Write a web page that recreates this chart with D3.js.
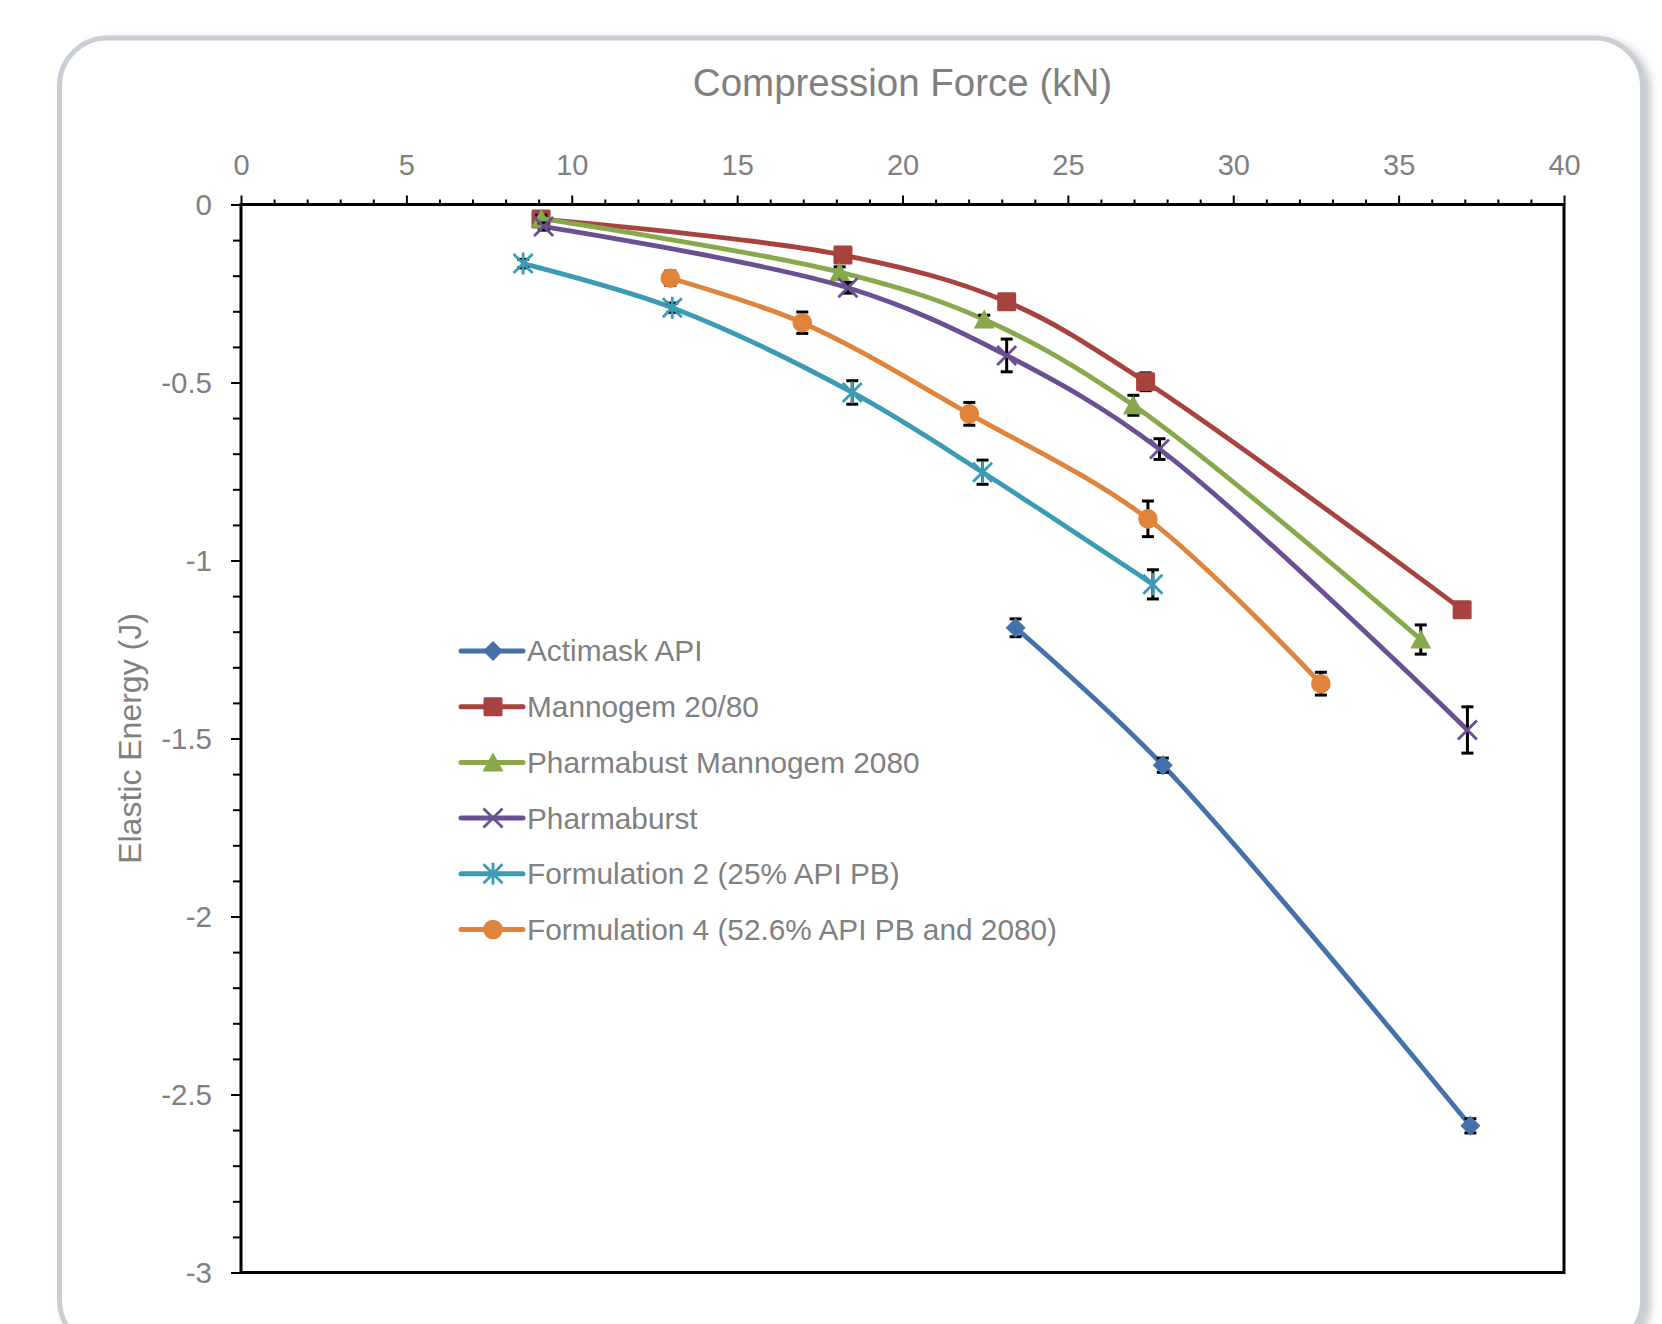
<!DOCTYPE html>
<html>
<head>
<meta charset="utf-8">
<script src="https://cdn.jsdelivr.net/npm/d3@7"></script>
<style>
body { margin: 0; background: #fff; }
svg text { font-family: "Liberation Sans", Arial, sans-serif; fill: #808080; }
</style>
</head>
<body>
<div id="chart"></div>
<script>
// data
var seriesNames = ["Actimask API", "Mannogem 20/80", "Pharmabust Mannogem 2080", "Pharmaburst",
	"Formulation 2 (25% API PB)", "Formulation 4 (52.6% API PB and 2080)"];

var actimaskX = [23.42, 27.87, 37.17];
var actimaskY = [-1.189, -1.575, -2.588];
var actimaskErr = [0.025, 0.02, 0.02];

var mannogemX = [9.07, 18.2, 23.15, 27.35, 36.92];
var mannogemY = [-0.041, -0.142, -0.273, -0.498, -1.138];
var mannogemErr = [0.01, 0.02, 0.01, 0.025, 0.015];

var pbMannogemX = [9.08, 18.1, 22.47, 26.98, 35.67];
var pbMannogemY = [-0.04, -0.19, -0.323, -0.564, -1.222];
var pbMannogemErr = [0.01, 0.015, 0.012, 0.028, 0.041];

var pharmaburstX = [9.15, 18.35, 23.15, 27.77, 37.08];
var pharmaburstY = [-0.062, -0.234, -0.424, -0.687, -1.476];
var pharmaburstErr = [0.01, 0.015, 0.046, 0.029, 0.065];

var form2X = [8.53, 13.04, 18.48, 22.42, 27.57];
var form2Y = [-0.166, -0.29, -0.528, -0.752, -1.067];
var form2Err = [0.012, 0.013, 0.033, 0.034, 0.041];

var form4X = [12.98, 16.97, 22.02, 27.42, 32.65];
var form4Y = [-0.207, -0.332, -0.588, -0.883, -1.346];
var form4Err = [0.02, 0.03, 0.032, 0.05, 0.032];

var xTicks = [0, 5, 10, 15, 20, 25, 30, 35, 40];
var yTicks = [0, -0.5, -1, -1.5, -2, -2.5, -3];

var colors = ["#4471a9", "#a8423f", "#88a94b", "#6b4f93", "#3b9bb4", "#e0843b"];
var markers = ["diamond", "square", "triangle", "cross", "star", "circle"];

function chart(){
	var W = 1662, H = 1324;
	var margin = {top: 204.5, right: 98, bottom: 51.5, left: 241};
	var width = W - margin.left - margin.right, height = H - margin.top - margin.bottom;

	var root = d3.select("#chart")
		.append("svg")
		.attr("width", W)
		.attr("height", H);

	// frame with soft shadow
	var defs = root.append("defs");
	var f = defs.append("filter").attr("id", "shadow")
		.attr("x", "-5%").attr("y", "-5%").attr("width", "115%").attr("height", "115%");
	f.append("feDropShadow").attr("dx", 6).attr("dy", 4).attr("stdDeviation", 4)
		.attr("flood-color", "#aeb3ba").attr("flood-opacity", 0.7);

	root.append("rect")
		.attr("x", 59.5).attr("y", 38)
		.attr("width", 1583).attr("height", 1310)
		.attr("rx", 48).attr("ry", 48)
		.attr("fill", "#fff")
		.attr("stroke", "#c9ced4")
		.attr("stroke-width", 5)
		.attr("filter", "url(#shadow)");

	var svg = root.append("g")
		.attr("transform", "translate(" + margin.left + "," + margin.top + ")");

	var x = d3.scaleLinear().domain([0, 40]).range([0, width]);
	var y = d3.scaleLinear().domain([-3, 0]).range([height, 0]);

	// minor ticks
	svg.append("g")
		.call(d3.axisTop(x).tickValues(d3.range(0, 41).filter(d => d % 5 != 0)).tickSize(5).tickFormat(""))
		.call(g => g.select(".domain").remove())
		.call(g => g.selectAll("line").attr("stroke", "#000").attr("stroke-width", 2));
	svg.append("g")
		.call(d3.axisLeft(y).tickValues(d3.range(-29, 0).map(d => d / 10).filter(d => Math.round(d * 10) % 5 != 0)).tickSize(8).tickFormat(""))
		.call(g => g.select(".domain").remove())
		.call(g => g.selectAll("line").attr("stroke", "#000").attr("stroke-width", 2));

	// major ticks + labels
	svg.append("g")
		.call(d3.axisTop(x).tickValues(xTicks).tickSize(9).tickFormat(d3.format("d")))
		.call(g => g.select(".domain").remove())
		.call(g => g.selectAll("line").attr("stroke", "#000").attr("stroke-width", 2))
		.call(g => g.selectAll("text").attr("y", -30).attr("dy", null)
			.style("font-size", "29px").style("fill", "#808080"));
	svg.append("g")
		.call(d3.axisLeft(y).tickValues(yTicks).tickSize(10).tickFormat(d => d))
		.call(g => g.select(".domain").remove())
		.call(g => g.selectAll("line").attr("stroke", "#000").attr("stroke-width", 2))
		.call(g => g.selectAll("text").attr("x", -29).attr("dy", "0.35em")
			.style("font-size", "29.5px").style("fill", "#808080"));

	// plot box
	svg.append("rect")
		.attr("width", width).attr("height", height)
		.attr("fill", "none")
		.attr("stroke", "#000")
		.attr("stroke-width", 3);

	// axis titles
	root.append("text")
		.attr("x", margin.left + width / 2)
		.attr("y", 96)
		.attr("text-anchor", "middle")
		.style("font-size", "38.5px")
		.text("Compression Force (kN)");
	root.append("text")
		.attr("transform", "translate(141," + (margin.top + height / 2) + ") rotate(-90)")
		.attr("text-anchor", "middle")
		.style("font-size", "32px")
		.text("Elastic Energy (J)");

	var allX = [actimaskX, mannogemX, pbMannogemX, pharmaburstX, form2X, form4X];
	var allY = [actimaskY, mannogemY, pbMannogemY, pharmaburstY, form2Y, form4Y];
	var allErr = [actimaskErr, mannogemErr, pbMannogemErr, pharmaburstErr, form2Err, form4Err];

	var line = d3.line()
		.x(d => x(d.x))
		.y(d => y(d.y))
		.curve(d3.curveCatmullRom.alpha(0.5));

	for(var s=0; s<6; s++){
		var pts = allX[s].map((v, i) => ({x: v, y: allY[s][i], e: allErr[s][i]}));
		var g = svg.append("g");

		g.append("path")
			.datum(pts)
			.attr("d", line)
			.attr("fill", "none")
			.attr("stroke", colors[s])
			.attr("stroke-width", 4.8)
			.attr("stroke-linejoin", "round");

		// error bars
		var eb = g.selectAll("errbar")
			.data(pts)
			.enter()
			.append("g")
			.attr("stroke", "#000")
			.attr("stroke-width", 3);
		eb.append("line")
			.attr("x1", d => x(d.x)).attr("x2", d => x(d.x))
			.attr("y1", d => y(d.y + d.e)).attr("y2", d => y(d.y - d.e));
		eb.append("line")
			.attr("x1", d => x(d.x) - 6).attr("x2", d => x(d.x) + 6)
			.attr("y1", d => y(d.y + d.e)).attr("y2", d => y(d.y + d.e));
		eb.append("line")
			.attr("x1", d => x(d.x) - 6).attr("x2", d => x(d.x) + 6)
			.attr("y1", d => y(d.y - d.e)).attr("y2", d => y(d.y - d.e));

		pts.forEach(d => drawMarker(g, markers[s], colors[s], x(d.x), y(d.y)));
	}

	// legend
	var leg = root.append("g");
	seriesNames.forEach(function(name, i){
		var cy = 651 + i * 55.7;
		leg.append("line")
			.attr("x1", 461).attr("x2", 523)
			.attr("y1", cy).attr("y2", cy)
			.attr("stroke", colors[i])
			.attr("stroke-width", 5)
			.attr("stroke-linecap", "round");
		drawMarker(leg, markers[i], colors[i], 493, cy);
		leg.append("text")
			.attr("x", 527)
			.attr("y", cy)
			.attr("dy", "0.35em")
			.style("font-size", "29.8px")
			.text(name);
	});
}

function drawMarker(g, type, color, cx, cy){
	var m = g.append("g").attr("transform", "translate(" + cx + "," + cy + ")");
	if(type == "diamond"){
		m.append("path").attr("d", "M0,-10L10,0L0,10L-10,0Z").attr("fill", color);
	} else if(type == "square"){
		m.append("rect").attr("x", -9.5).attr("y", -9.5).attr("width", 19).attr("height", 19)
			.attr("rx", 1.5).attr("fill", color);
	} else if(type == "triangle"){
		m.append("path").attr("d", "M0,-10L10.5,9L-10.5,9Z").attr("fill", color);
	} else if(type == "circle"){
		m.append("circle").attr("r", 9.8).attr("fill", color);
	} else {
		var d = "M-9.5,-9.5L9.5,9.5M9.5,-9.5L-9.5,9.5";
		if(type == "star") d += "M0,-11L0,11";
		m.append("path").attr("d", d).attr("stroke", color).attr("stroke-width", 2.8).attr("fill", "none");
	}
}

chart();
</script>
</body>
</html>
